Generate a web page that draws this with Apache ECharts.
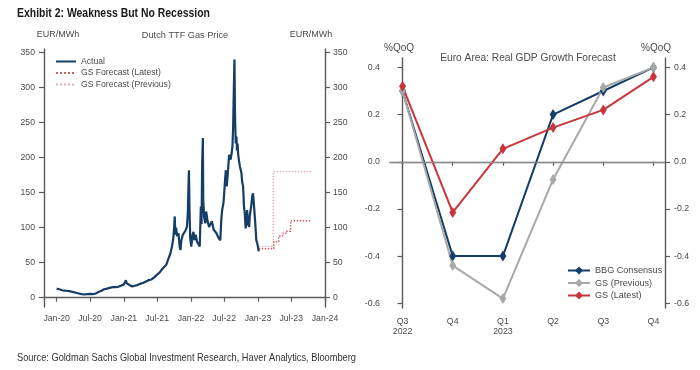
<!DOCTYPE html>
<html><head><meta charset="utf-8">
<script src="https://cdn.jsdelivr.net/npm/echarts@6/dist/echarts.min.js"></script>
<style>html,body{margin:0;padding:0;background:#fff}#c{width:700px;height:370px}</style>
</head><body><div id="c"></div>
<script>
// ---- Dutch TTF gas price (EUR/MWh) ----
const gasActual = [
['2020-01-01',13],['2020-01-15',12],['2020-02-01',10.5],['2020-02-15',10],['2020-03-01',9.6],['2020-03-15',9],
['2020-04-01',8],['2020-04-15',7],['2020-05-01',6],['2020-05-15',5],['2020-06-01',4.5],['2020-06-15',5],
['2020-07-01',5.5],['2020-07-15',5],['2020-08-01',6],['2020-08-15',8],['2020-09-01',10],['2020-09-15',12],
['2020-10-01',13],['2020-10-15',14],['2020-11-01',15],['2020-11-15',15],['2020-12-01',15.5],['2020-12-15',17],
['2021-01-01',19],['2021-01-08',21],['2021-01-12',25],['2021-01-15',21],['2021-02-01',18],['2021-02-15',16],
['2021-03-01',17],['2021-03-15',18],['2021-04-01',20],['2021-04-15',21],['2021-05-01',23],['2021-05-15',25],
['2021-06-01',26],['2021-06-15',29],['2021-07-01',33],['2021-07-15',36],['2021-08-01',42],['2021-08-10',44],
['2021-08-20',47],['2021-09-01',56],['2021-09-10',62],['2021-09-20',73],['2021-09-27',85],['2021-10-01',98],
['2021-10-05',116],['2021-10-08',90],['2021-10-12',100],['2021-10-18',88],['2021-10-25',92],['2021-11-01',72],
['2021-11-05',68],['2021-11-10',82],['2021-11-18',90],['2021-11-25',92],['2021-12-01',95],['2021-12-10',101],
['2021-12-15',120],['2021-12-21',182],['2021-12-24',130],['2021-12-28',85],['2022-01-03',73],['2022-01-10',90],
['2022-01-15',94],['2022-01-20',82],['2022-01-27',90],['2022-02-03',80],['2022-02-10',78],['2022-02-18',73],
['2022-02-24',130],['2022-02-28',105],['2022-03-03',190],['2022-03-07',228],['2022-03-09',140],['2022-03-14',115],
['2022-03-20',106],['2022-03-25',123],['2022-04-01',110],['2022-04-10',101],['2022-04-15',100],['2022-04-25',109],
['2022-05-05',97],['2022-05-12',97],['2022-05-20',92],['2022-06-01',85],['2022-06-10',82],['2022-06-15',110],
['2022-06-20',125],['2022-06-27',135],['2022-07-01',149],['2022-07-05',165],['2022-07-10',182],['2022-07-15',159],
['2022-07-20',175],['2022-07-28',204],['2022-08-05',197],['2022-08-10',205],['2022-08-15',216],['2022-08-19',245],
['2022-08-22',290],['2022-08-26',340],['2022-08-29',260],['2022-09-02',220],['2022-09-06',230],['2022-09-09',210],
['2022-09-12',220],['2022-09-15',205],['2022-09-20',195],['2022-09-25',187],['2022-10-03',178],['2022-10-07',165],
['2022-10-12',159],['2022-10-17',130],['2022-10-21',121],['2022-10-26',99],['2022-10-31',110],['2022-11-03',125],
['2022-11-08',105],['2022-11-14',101],['2022-11-18',118],['2022-11-22',125],['2022-11-27',135],['2022-12-01',145],
['2022-12-05',149],['2022-12-08',140],['2022-12-12',138],['2022-12-16',111],['2022-12-20',95],['2022-12-23',82],
['2022-12-28',78],['2023-01-02',71],['2023-01-05',66]
];
const gasForecastLatest = [
['2023-01-05',70],['2023-03-28',80],['2023-04-24',88],['2023-05-15',92],['2023-06-03',95],['2023-06-28',110],['2023-10-18',110]
];
const gasForecastPrevious = [
['2023-01-05',73],['2023-03-26',180],['2023-10-18',180]
];
const gasXTicks = ['2020-01-01','2020-07-01','2021-01-01','2021-07-01','2022-01-01','2022-07-01','2023-01-01','2023-07-01','2024-01-01'];
const gasYTicks = [0,50,100,150,200,250,300,350];

// ---- Euro area real GDP growth (%QoQ) ----
const gdpQuarters = ['Q3\n2022','Q4','Q1\n2023','Q2','Q3','Q4'];
const gdpBBG = [0.30,-0.40,-0.40,0.20,0.30,0.40];
const gdpGSPrevious = [0.30,-0.44,-0.58,-0.075,0.315,0.40];
const gdpGSLatest = [0.32,-0.215,0.055,0.145,0.22,0.36];
const gdpYTicks = [-0.6,-0.4,-0.2,0,0.2,0.4];

const NAVY = '#143d67', GREY = '#a8a8a8', RED = '#c8363c';
const AX = '#5a5a5a', TXT = '#4a4a4a';
const FONT = "'Liberation Sans', Arial, sans-serif";
const MONTHS = ['Jan','Feb','Mar','Apr','May','Jun','Jul','Aug','Sep','Oct','Nov','Dec'];
const ts = s => new Date(s + 'T00:00:00').getTime();
const toTs = arr => arr.map(p => [ts(p[0]), p[1]]);
const idx = arr => arr.map((v, i) => [i, v]);
const gasXTickTs = gasXTicks.map(ts);

const mctx = document.createElement('canvas').getContext('2d');
function fitScale(t, font, target) { mctx.font = font; return target / mctx.measureText(t).width; }

const chart = echarts.init(document.getElementById('c'), null, {renderer: 'canvas'});
const axLine = {show: true, lineStyle: {color: AX, width: 1.4}};
const tickStyle = {color: AX, width: 1.2};

function text(t, x, y, align, size) {
  return {type: 'text', x: x, y: y, style: {
    text: t, fill: TXT, font: size + 'px ' + FONT,
    textAlign: align, align: align, textVerticalAlign: 'middle', verticalAlign: 'middle'
  }};
}
function narrowText(t, x, y, font, target, fill) {
  return {type: 'text', x: x, y: y, scaleX: fitScale(t, font, target), style: {
    text: t, fill: fill, font: font,
    textAlign: 'left', align: 'left', textVerticalAlign: 'middle', verticalAlign: 'middle'
  }};
}
const TITLE = 'Exhibit 2: Weakness But No Recession';
const SOURCE = 'Source: Goldman Sachs Global Investment Research, Haver Analytics, Bloomberg';
const hiddenSymbol = {color: 'rgba(0,0,0,0)', borderWidth: 0, opacity: 0};

chart.setOption({
  backgroundColor: '#fff',
  animation: false,
  textStyle: {fontFamily: FONT},
  grid: [
    {left: 44, right: 375, top: 49, bottom: 63},
    {left: 390, right: 35, top: 58, bottom: 62}
  ],
  xAxis: [
    {type: 'value', gridIndex: 0, min: ts('2019-10-24'), max: ts('2024-01-01'),
     axisLine: axLine,
     axisTick: {show: true, customValues: gasXTickTs, length: 4, lineStyle: tickStyle},
     axisLabel: {customValues: gasXTickTs, color: TXT, fontSize: 8.7, margin: 7, hideOverlap: false,
       formatter: v => { const d = new Date(v); return MONTHS[d.getMonth()] + '-' + String(d.getFullYear()).slice(2); }},
     splitLine: {show: false}},
    {type: 'value', gridIndex: 1, min: -0.25, max: 5.23,
     axisLine: axLine,
     axisTick: {show: true, customValues: [0,1,2,3,4,5], length: 4, lineStyle: tickStyle},
     axisLabel: {customValues: [0,1,2,3,4,5], color: TXT, fontSize: 8.8, lineHeight: 10.5, margin: 8,
       formatter: v => gdpQuarters[Math.round(v)]},
     splitLine: {show: false}}
  ],
  yAxis: [
    {type: 'value', gridIndex: 0, position: 'left', min: -13.3, max: 355,
     axisLine: axLine,
     axisTick: {show: true, customValues: gasYTicks, length: 5, lineStyle: tickStyle},
     axisLabel: {customValues: gasYTicks, color: TXT, fontSize: 8.7, margin: 9},
     splitLine: {show: false}},
    {type: 'value', gridIndex: 0, position: 'right', min: -13.3, max: 355,
     axisLine: axLine,
     axisTick: {show: true, customValues: gasYTicks, length: 5, lineStyle: tickStyle},
     axisLabel: {customValues: gasYTicks, color: TXT, fontSize: 8.7, margin: 8},
     splitLine: {show: false}},
    {type: 'value', gridIndex: 1, position: 'left', min: -0.62, max: 0.44,
     axisLine: axLine,
     axisTick: {show: true, customValues: gdpYTicks, length: 5, lineStyle: tickStyle},
     axisLabel: {customValues: gdpYTicks, color: TXT, fontSize: 8.8, margin: 10, formatter: v => v.toFixed(1)},
     splitLine: {show: false}},
    {type: 'value', gridIndex: 1, position: 'right', min: -0.62, max: 0.44,
     axisLine: axLine,
     axisTick: {show: true, customValues: gdpYTicks, length: 5, lineStyle: tickStyle},
     axisLabel: {customValues: gdpYTicks, color: TXT, fontSize: 8.8, margin: 9, formatter: v => v.toFixed(1)},
     splitLine: {show: false}}
  ],
  legend: [
    {data: ['Actual', 'GS Forecast (Latest)', 'GS Forecast (Previous)'], orient: 'vertical',
     left: 50, top: 52, itemWidth: 20, itemHeight: 8, itemGap: 2.5, itemStyle: hiddenSymbol,
     textStyle: {fontSize: 8.6, color: TXT}},
    {data: ['BBG Consensus', 'GS (Previous)', 'GS (Latest)'], orient: 'vertical',
     left: 562, top: 261, itemWidth: 22, itemHeight: 10, itemGap: 3.5,
     textStyle: {fontSize: 9.1, color: TXT}}
  ],
  graphic: [
    narrowText(TITLE, 17, 13, 'bold 13px ' + FONT, 193, '#1a1a1a'),
    text('EUR/MWh', 58, 35, 'center', 9),
    text('Dutch TTF Gas Price', 185, 35, 'center', 9.2),
    text('EUR/MWh', 311, 35, 'center', 9),
    text('%QoQ', 399, 48, 'center', 10),
    text('%QoQ', 656, 48, 'center', 10),
    text('Euro Area: Real GDP Growth Forecast', 528, 58, 'center', 10.2),
    narrowText(SOURCE, 17, 358, '11px ' + FONT, 339, '#333')
  ],
  series: [
    {name: 'Actual', type: 'line', xAxisIndex: 0, yAxisIndex: 0, data: toTs(gasActual), symbol: 'none',
     lineStyle: {color: NAVY, width: 2.2}, itemStyle: {color: NAVY}, z: 3},
    {name: 'GS Forecast (Latest)', type: 'line', xAxisIndex: 0, yAxisIndex: 0, data: toTs(gasForecastLatest),
     step: 'end', symbol: 'none', lineStyle: {color: '#c9616b', width: 1.5, type: 'dotted'}, itemStyle: {color: '#c9616b'}, z: 2},
    {name: 'GS Forecast (Previous)', type: 'line', xAxisIndex: 0, yAxisIndex: 0, data: toTs(gasForecastPrevious),
     step: 'end', symbol: 'none', lineStyle: {color: '#dab3ba', width: 1.5, type: 'dotted'}, itemStyle: {color: '#dab3ba'}, z: 1},
    {name: 'BBG Consensus', type: 'line', xAxisIndex: 1, yAxisIndex: 2, data: idx(gdpBBG),
     symbol: 'diamond', symbolSize: [7, 11], showAllSymbol: true,
     lineStyle: {color: NAVY, width: 2}, itemStyle: {color: NAVY},
     markLine: {silent: true, symbol: 'none', label: {show: false}, animation: false,
       lineStyle: {color: '#8a8a8a', width: 1.2, type: 'solid'}, data: [{yAxis: 0}]}},
    {name: 'GS (Previous)', type: 'line', xAxisIndex: 1, yAxisIndex: 2, data: idx(gdpGSPrevious),
     symbol: 'diamond', symbolSize: [7, 11], lineStyle: {color: GREY, width: 2}, itemStyle: {color: GREY}},
    {name: 'GS (Latest)', type: 'line', xAxisIndex: 1, yAxisIndex: 2, data: idx(gdpGSLatest),
     symbol: 'diamond', symbolSize: [7, 11], lineStyle: {color: RED, width: 2}, itemStyle: {color: RED}}
  ]
});
</script></body></html>
